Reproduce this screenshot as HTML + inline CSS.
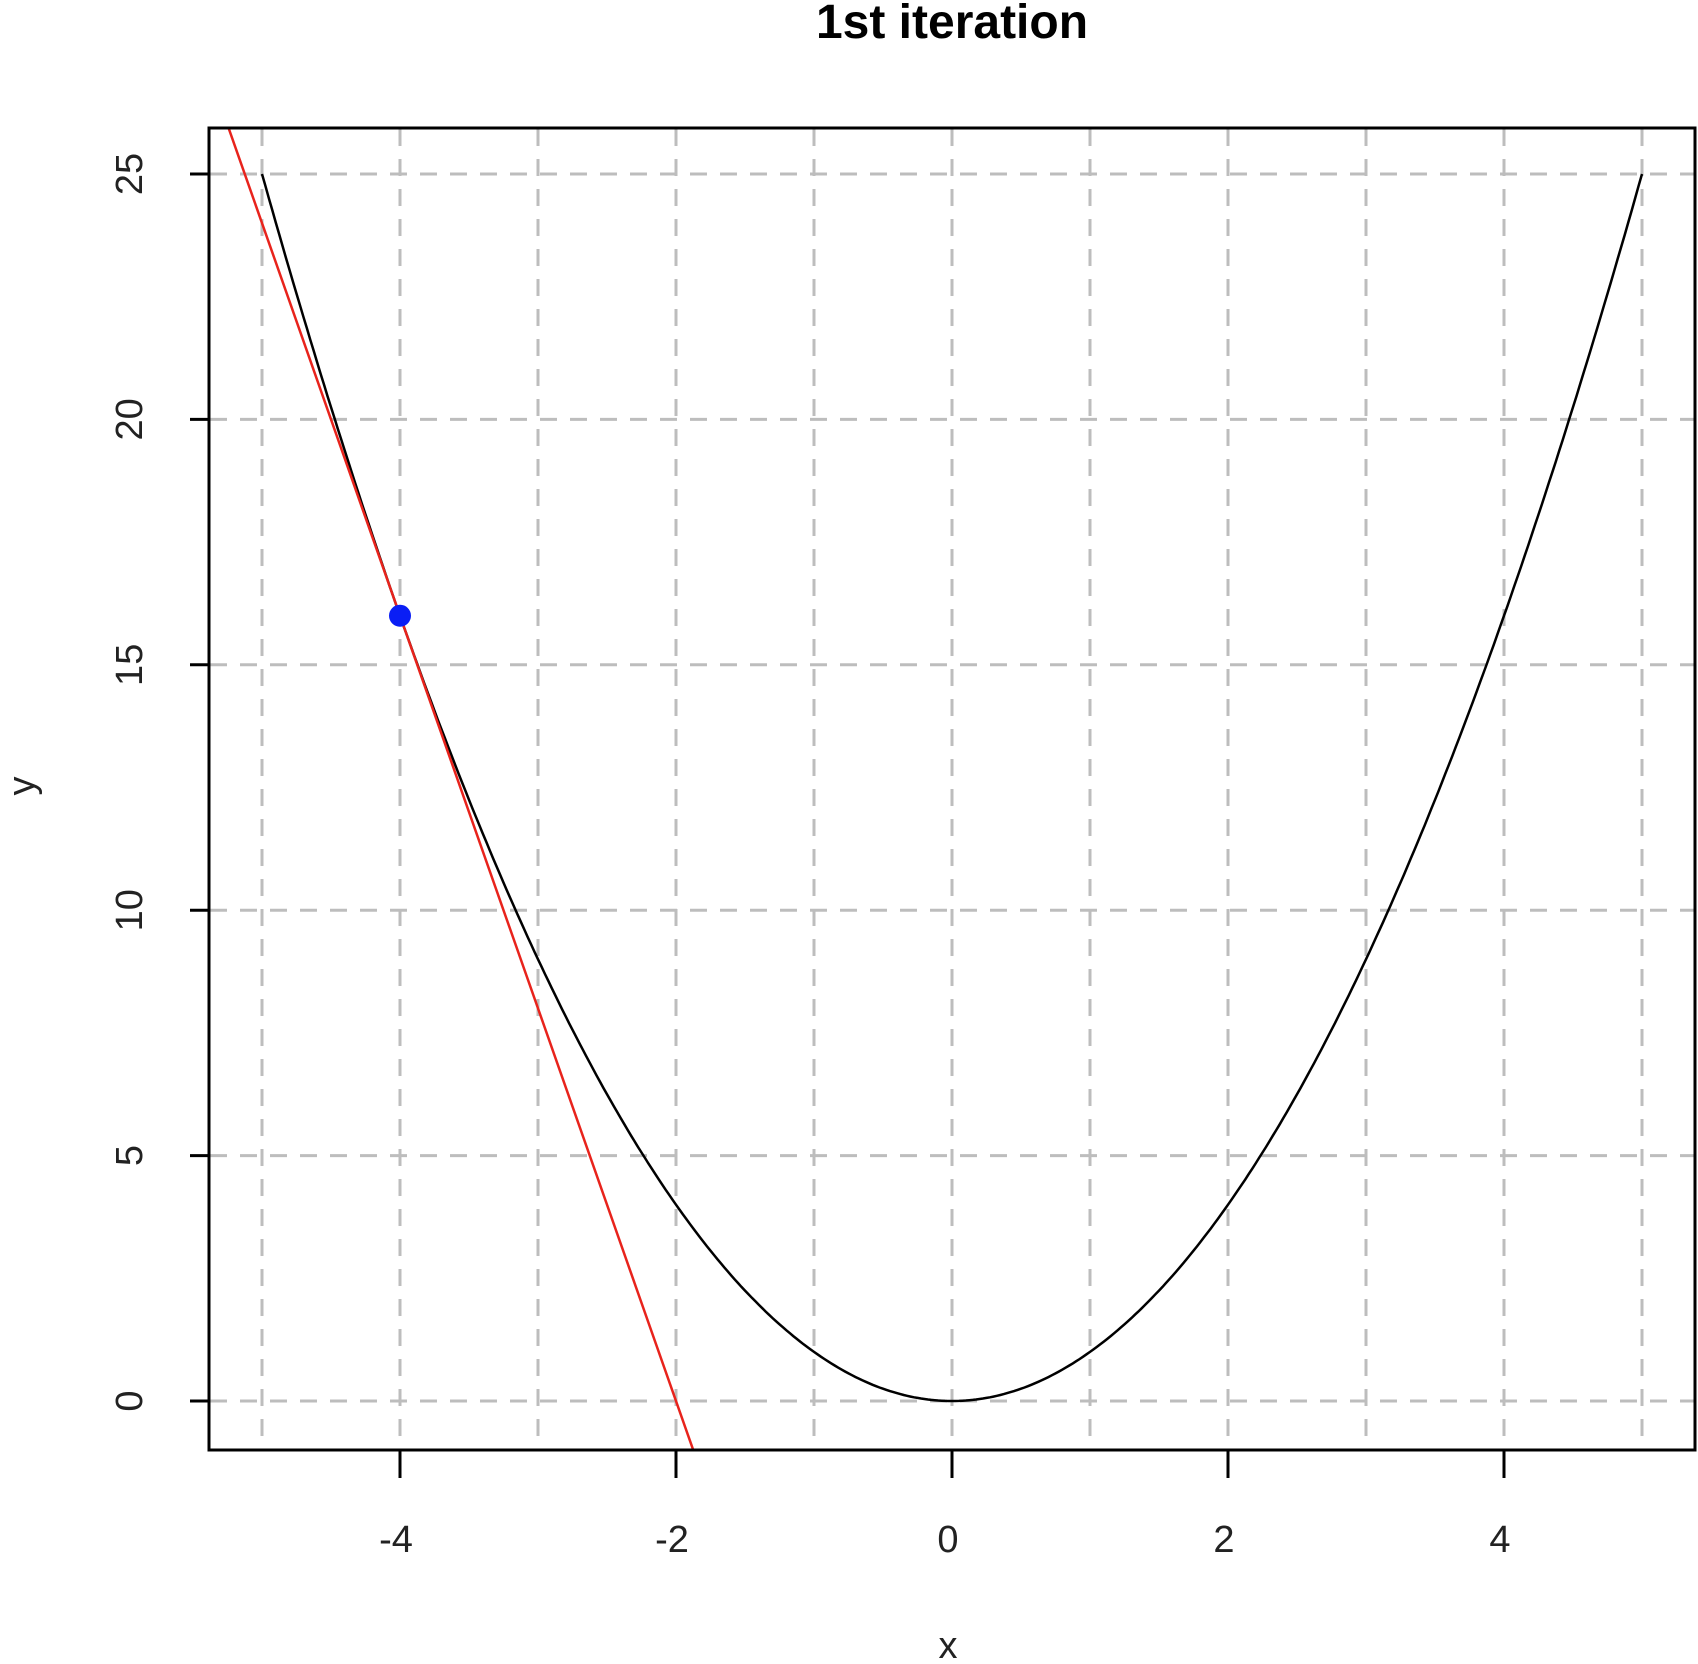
<!DOCTYPE html>
<html><head><meta charset="utf-8"><style>
html,body{margin:0;padding:0;background:#fff;width:1698px;height:1664px;overflow:hidden;}
svg{display:block;font-family:"Liberation Sans",Arial,sans-serif;}
</style></head><body>
<svg id="chart" width="1698" height="1664" viewBox="0 0 1698 1664">
<defs><clipPath id="clip"><rect x="209" y="128" width="1486" height="1322"/></clipPath></defs>
<text x="952" y="38" text-anchor="middle" font-size="48" font-weight="bold">1st iteration</text>
<g id="grid"></g>
<g id="axes"></g>
<g clip-path="url(#clip)" id="marks"></g>
<rect x="209" y="128" width="1486" height="1322" fill="none" stroke="#000" stroke-width="3"/>
<text x="948" y="1658" text-anchor="middle" font-size="38" fill="#222">x</text>
<text transform="translate(34,786) rotate(-90)" text-anchor="middle" font-size="38" fill="#222">y</text>
</svg>
<script>
const xTicks=[-4,-2,0,2,4];
const yTicks=[0,5,10,15,20,25];
const xGrid=[-5,-4,-3,-2,-1,0,1,2,3,4,5];
const curveX=[-5,5];
const pointX=[-4];
const pointY=[16];
const tangentSlope=[-8];
const NS="http://www.w3.org/2000/svg";
const sx=v=>952+v*138;
const sy=v=>1401-v*49.08;
function mk(tag,attrs,parent){const e=document.createElementNS(NS,tag);for(const k in attrs)e.setAttribute(k,attrs[k]);parent.appendChild(e);return e;}
const grid=document.getElementById('grid'),axes=document.getElementById('axes'),marks=document.getElementById('marks');
xGrid.forEach(v=>{const l=mk('line',{x1:sx(v),x2:sx(v),y1:129,y2:1449,stroke:'#bdbdbd','stroke-width':3,'stroke-dasharray':'17 13'},grid);

});
yTicks.forEach(v=>{const l=mk('line',{x1:210,x2:1694,y1:sy(v),y2:sy(v),stroke:'#bdbdbd','stroke-width':3,'stroke-dasharray':'17 13'},grid);


const t=mk('line',{x1:190,x2:209,y1:sy(v),y2:sy(v),stroke:'#000','stroke-width':3},axes);


const tx=mk('text',{transform:`translate(142,${sy(v)}) rotate(-90)`,'text-anchor':'middle','font-size':38,fill:'#222'},axes);
tx.textContent=v;

});
xTicks.forEach(v=>{const t=mk('line',{x1:sx(v),x2:sx(v),y1:1450,y2:1478,stroke:'#000','stroke-width':3},axes);


const tx=mk('text',{x:sx(v)-4,y:1552,'text-anchor':'middle','font-size':38,fill:'#222'},axes);
tx.textContent=v;

});
let d='';for(let i=0;i<=400;i++){const x=curveX[0]+(curveX[1]-curveX[0])*i/400;d+=(i?'L':'M')+sx(x).toFixed(1)+' '+sy(x*x).toFixed(1);}
const c=mk('path',{d:d,fill:'none',stroke:'#000','stroke-width':2.5},marks);


const x0=pointX[0],y0=pointY[0],m=tangentSlope[0];
const xa=-6,xb=0;
const tl=mk('line',{x1:sx(xa),y1:sy(y0+m*(xa-x0)),x2:sx(xb),y2:sy(y0+m*(xb-x0)),stroke:'#e8231c','stroke-width':2.5},marks);


const p=mk('circle',{cx:sx(x0),cy:sy(y0),r:11,fill:'#0a1ef5'},marks);


</script>
</body></html>
